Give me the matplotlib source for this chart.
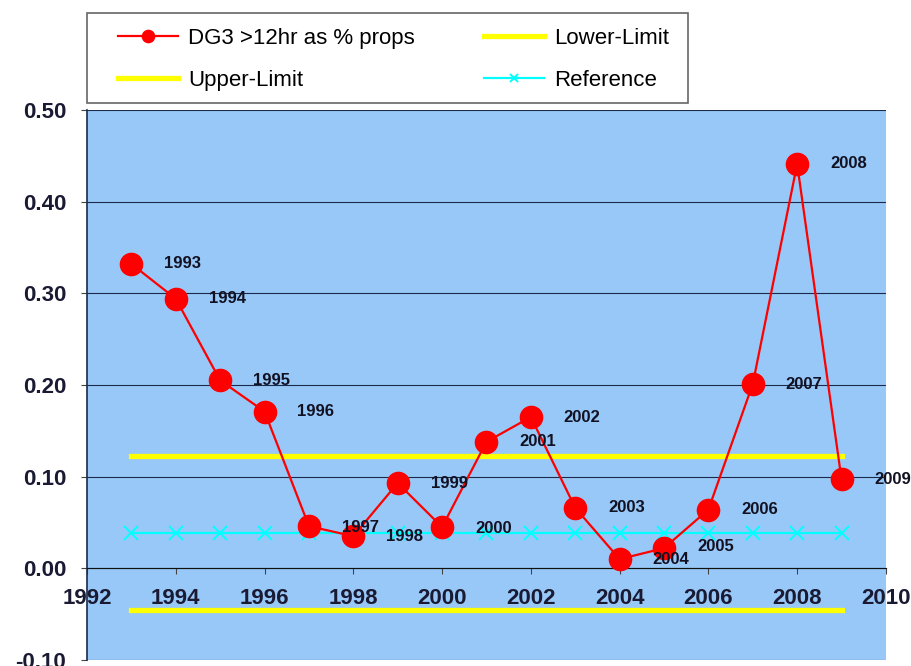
import numpy as np
import matplotlib.pyplot as plt
from matplotlib.patches import Rectangle

# yearly values
years = [1993, 1994, 1995, 1996, 1997, 1998, 1999, 2000, 2001,
         2002, 2003, 2004, 2005, 2006, 2007, 2008, 2009]
dg3 = [0.332, 0.294, 0.205, 0.171, 0.046, 0.035, 0.093, 0.045, 0.138,
       0.165, 0.066, 0.010, 0.022, 0.064, 0.201, 0.441, 0.097]
upper_limit = 0.123
lower_limit = -0.046
reference = 0.038

# small vertical nudges (points) for some year annotations
label_dy = {1997: -1, 1998: 0, 2000: -1, 2005: 1}

plt.rcParams['font.family'] = ['Liberation Sans', 'DejaVu Sans']

fig = plt.figure(figsize=(9.12, 6.66), dpi=100)
ax = fig.add_axes([0.0954, 0.009, 0.876, 0.826])
ax.set_facecolor('#98c8f8')

n = len(years)
ax.plot(years, [upper_limit] * n, color='#ffff00', lw=3.8, label='Upper-Limit', zorder=2)
ax.plot(years, [lower_limit] * n, color='#ffff00', lw=3.8, label='Lower-Limit', zorder=2)
ax.plot(years, [reference] * n, color='#00ffff', lw=1.6, marker='x', ms=10, mew=1.4,
        label='Reference', zorder=2)
ax.plot(years, dg3, color='#ff0000', lw=1.6, marker='o', ms=16,
        label='DG3 >12hr as % props', zorder=3)

for yr, v in zip(years, dg3):
    ax.annotate(str(yr), (yr, v), xytext=(37, label_dy.get(yr, 0)), textcoords='offset points',
                ha='center', va='center', fontsize=12, fontweight='bold', color='#111122',
                zorder=4, annotation_clip=False)

ax.set_xlim(1992, 2010)
ax.set_ylim(-0.10, 0.50)
ax.set_xticks(np.arange(1992, 2011, 2))
ax.set_yticks(np.arange(-0.10, 0.51, 0.10))
ax.set_yticklabels(['%.2f' % t for t in np.arange(-0.10, 0.51, 0.10)])
ax.yaxis.grid(True, color='#1a2a4a', lw=0.8)
ax.set_axisbelow(True)

ax.spines['top'].set_visible(False)
ax.spines['right'].set_visible(False)
ax.spines['bottom'].set_position(('data', 0))
ax.spines['bottom'].set_color('#111111')
ax.spines['left'].set_color('#1a2a4a')
ax.spines['left'].set_linewidth(1.2)
ax.tick_params(axis='both', direction='out', length=4, color='#444444',
               labelsize=16, labelcolor='#1a1a33')
ax.tick_params(axis='x', pad=10)
ax.tick_params(axis='y', pad=11)
for lab in ax.get_xticklabels() + ax.get_yticklabels():
    lab.set_fontweight('bold')

# legend box above the plot
fig.patches.append(Rectangle((87 / 912, 1 - 103 / 666), 601 / 912, 90 / 666,
                             transform=fig.transFigure, facecolor='white',
                             edgecolor='#666666', lw=1.2, zorder=0))
h, l = ax.get_legend_handles_labels()
order = [3, 0, 1, 2]
leg = fig.legend([h[i] for i in order], [l[i] for i in order], ncol=2,
                 loc='upper left', bbox_to_anchor=(118 / 912, 1 - 28 / 666),
                 fontsize=16, frameon=False, borderpad=0, borderaxespad=0,
                 handlelength=2.7, handletextpad=0.45, columnspacing=3.1,
                 labelspacing=0.95, markerscale=0.55)

fig.savefig('out.png', dpi=100)
